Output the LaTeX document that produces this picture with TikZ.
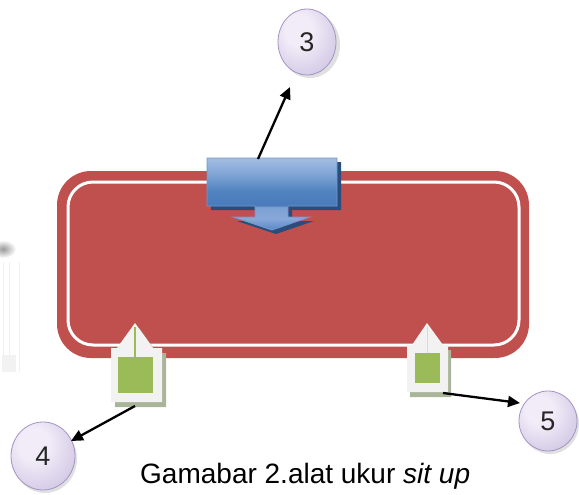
\documentclass[tikz,border=0pt]{standalone}
\usepackage{fontspec}
\setmainfont{Liberation Sans}
\usetikzlibrary{arrows.meta,shapes.geometric}

\definecolor{trackred}{HTML}{C0504D}
\definecolor{blueEdge}{HTML}{6F98D0}
\definecolor{blueShadow}{HTML}{2C4C7C}
\definecolor{padFill}{HTML}{F2F2F2}
\definecolor{padShadow}{HTML}{A9B598}
\definecolor{padGreen}{HTML}{9BBB59}
\definecolor{lavA}{HTML}{F1ECF8}
\definecolor{lavB}{HTML}{DBD2EA}
\definecolor{lavC}{HTML}{C5B8DC}
\definecolor{lavD}{HTML}{AF9FCC}
\definecolor{lavEdge}{HTML}{A494C3}
\definecolor{bA}{HTML}{5A88C8}
\definecolor{bB}{HTML}{88A8D8}
\definecolor{bC}{HTML}{7CA0D4}
\definecolor{bD}{HTML}{4A7BBC}
\definecolor{bE}{HTML}{5083BF}
\definecolor{bF}{HTML}{7EA2D4}
\definecolor{bG}{HTML}{A3BDE1}

% callout body: light top, deep middle, lighter stem and head
\pgfdeclareverticalshading{calloutblue}{100bp}{%
  color(0bp)=(bA); color(25bp)=(bA); color(33bp)=(bB); color(41bp)=(bC);
  color(42bp)=(bD); color(52bp)=(bE); color(63bp)=(bF); color(75bp)=(bG);
  color(100bp)=(bG)}

\pgfdeclareradialshading{lavball}{\pgfpoint{-9bp}{11bp}}{%
  color(0bp)=(lavA); color(12bp)=(lavA); color(28bp)=(lavB);
  color(42bp)=(lavC); color(56bp)=(lavD); color(70bp)=(lavD)}

\tikzset{
  numball/.style={ellipse, shading=lavball, draw=lavEdge, line width=0.8pt,
    inner sep=0pt, font=\fontsize{27}{30}\selectfont, text=black!85},
  ballshadow/.style={fill=black, opacity=0.12},
  pointer/.style={line width=2.3pt, -{Triangle[length=12pt,width=11pt]}},
  padbody/.style={fill=padFill},
  padshade/.style={fill=padShadow},
}

\begin{document}
\begin{tikzpicture}[x=1pt,y=-1pt]
\useasboundingbox (0,0) rectangle (579,495);

% faint fragment at the left margin
\shade[inner color=black!40, outer color=white] (3,249) ellipse (13 and 9);
\foreach \xx in {3,9,19}
  \draw[black!6, line width=0.6pt] (\xx,262) -- (\xx,372);
\fill[black!5] (2,355) rectangle (16,372);

% track: red rounded band with white inner line
\fill[trackred, rounded corners=34pt] (57,171) rectangle (529,358);
\draw[white, line width=3pt, rounded corners=25pt] (68,182) rectangle (519,345);

% blue down-arrow callout (shadow, then body)
\fill[blueShadow] ([shift={(4,4)}]207,158) -- ++(130,0) -- ++(0,48) -- ++(-49,0)
  -- ++(0,11) -- ++(22,0) -- ++(-38,13) -- ++(-39,-13) -- ++(22,0) -- ++(0,-11)
  -- ++(-48,0) -- cycle;
\path[shading=calloutblue, draw=blueEdge, line width=0.8pt]
  (207,158) -- (337,158) -- (337,206) -- (288,206) -- (288,217) -- (310,217)
  -- (272,230) -- (233,217) -- (255,217) -- (255,206) -- (207,206) -- cycle;
\coordinate (s3) at (258,159);

% left up-arrow marker
\fill[padshade] (115,407) -- (166,407) -- (166,353) -- (157,353) -- (139,328)
  -- (121,353) -- (115,353) -- cycle;
\fill[padbody] (111,402) -- (162,402) -- (162,348) -- (153,348) -- (135,323)
  -- (117,348) -- (111,348) -- cycle;
\fill[padGreen] (118,357) rectangle (153,393);
\draw[padGreen, line width=2pt] (135,327) -- (135,358);
\coordinate (s4) at (135,406);

% right up-arrow marker
\fill[padshade] (410,397) -- (451,397) -- (451,350) -- (446,350) -- (430,328)
  -- (415,348) -- (410,350) -- cycle;
\fill[padbody] (407,392) -- (448,392) -- (448,345) -- (443,345) -- (427,323)
  -- (412,345) -- (407,345) -- cycle;
\fill[padGreen] (415,353) rectangle (440,383);
\draw[black!15, line width=0.6pt] (427,327) -- (427,353);
\coordinate (s5) at (443,393);

% numbered balls
\fill[ballshadow] (310,45) ellipse (30 and 33);
\fill[ballshadow] (45,459) ellipse (32 and 34);
\fill[ballshadow] (550,424) ellipse (29 and 30);
\node[numball, minimum width=58pt, minimum height=66pt] (c3) at (307,42) {3};
\node[numball, minimum width=64pt, minimum height=68pt] (c4) at (43,456) {4};
\node[numball, minimum width=58pt, minimum height=60pt] (c5) at (548,421) {5};

% pointers
\coordinate (t3) at (290,87);
\coordinate (t4) at (71,441);
\coordinate (t5) at (520,403);
\draw[pointer] (s3) -- (t3);
\draw[pointer] (s4) -- (t4);
\draw[pointer] (s5) -- (t5);

% caption
\node[anchor=base west, inner sep=0pt, font=\fontsize{28}{32}\selectfont] (cap) at (140,483)
  {Gamabar 2.alat ukur \textit{sit up}};
\end{tikzpicture}
\end{document}
